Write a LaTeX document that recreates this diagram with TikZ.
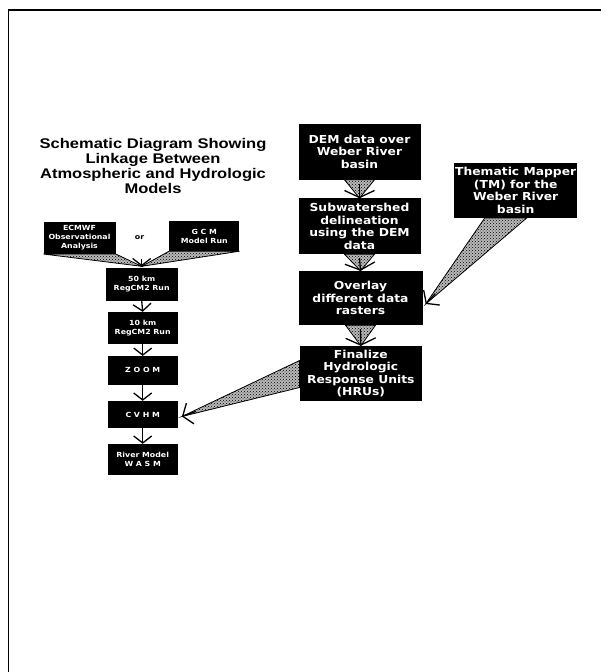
\documentclass[tikz,border=0pt]{standalone}
\usepackage{fontspec}
\newfontfamily\titlefont[FakeStretch=1.18]{Liberation Sans}
\newfontfamily\boxfont[FakeStretch=1.12]{DejaVu Sans}
\usetikzlibrary{arrows.meta,patterns,calc}

\tikzset{
  bigbox/.style={fill=black, text=white, align=center, inner sep=1pt,
    font=\boxfont\bfseries\fontsize{11}{12.5}\selectfont},
  smallbox/.style={fill=black, text=white, align=center, inner sep=1pt,
    font=\boxfont\bfseries\fontsize{7}{9}\selectfont},
  wedge/.style={draw=black, line width=0.8pt, preaction={fill=gray!55},
    pattern=crosshatch dots, pattern color=black},
  vtip/.style={line width=1.3pt, -{Straight Barb[length=7pt,width=18pt,line width=1.3pt]}},
  bigtip/.style={line width=1.3pt, -{Straight Barb[length=8pt,width=22pt,line width=1.3pt]}},
  frame/.style={line width=1.4pt}
}

\begin{document}
\begin{tikzpicture}[x=1pt, y=-1pt]
\useasboundingbox (0,0) rectangle (608,672);

% page frame
\coordinate (fbl) at (8.5,672);
\coordinate (ftl) at (8.5,10);
\coordinate (ftr) at (601,10);
\draw[frame] (fbl) -- (ftl) -- (ftr);

% title
\node[font=\titlefont\bfseries\fontsize{14}{15.3}\selectfont, align=center]
  (title) at (153,166) {Schematic Diagram Showing\\Linkage Between\\Atmospheric and Hydrologic\\Models};

% atmospheric chain
\node[smallbox, minimum width=72pt, minimum height=32pt] (ecmwf) at (79.5,237.8) {ECMWF\\Observational\\Analysis};
\node[font=\boxfont\bfseries\fontsize{7}{9}\selectfont] (or) at (139.5,238) {or};
\node[smallbox, minimum width=70pt, minimum height=30pt] (gcm) at (204.3,236) {G C M\\Model Run};
\node[smallbox, minimum width=72pt, minimum height=33pt] (r50) at (141.7,284) {50 km\\RegCM2 Run};
\node[smallbox, minimum width=70pt, minimum height=32pt] (r10) at (142.7,328) {10 km\\RegCM2 Run};
\node[smallbox, minimum width=70pt, minimum height=28.5pt] (zoom) at (142.7,370.3) {Z O O M};
\node[smallbox, minimum width=70pt, minimum height=27pt] (cvhm) at (142.7,414.5) {C V H M};
\node[smallbox, minimum width=70pt, minimum height=31pt] (river) at (142.7,459.5) {River Model\\W A S M};

% hydrologic chain
\node[bigbox, minimum width=122pt, minimum height=55.5pt] (dem) at (359.5,151.8) {DEM data over\\Weber River\\basin};
\node[bigbox, minimum width=122pt, minimum height=55.6pt] (sub) at (359.5,226.2) {Subwatershed\\delineation\\using the DEM\\data};
\node[bigbox, minimum width=124pt, minimum height=54pt] (overlay) at (360.5,298) {Overlay\\different data\\rasters};
\node[bigbox, minimum width=122pt, minimum height=55pt] (final) at (360.8,373.5) {Finalize\\Hydrologic\\Response Units\\(HRUs)};
\node[bigbox, minimum width=123pt, minimum height=55pt] (tm) at (515.7,190.3) {Thematic Mapper\\(TM) for the\\Weber River\\basin};

% inputs converging on the 50 km run
\coordinate (r50in) at ([yshift=1pt]r50.north);
\draw[wedge] (ecmwf.south west) -- (ecmwf.south east) -- (r50in) -- cycle;
\draw[wedge] (gcm.south west) -- (gcm.south east) -- (r50in) -- cycle;
\draw[vtip] ([yshift=8pt]r50.north) -- (r50in);

% atmospheric chain links
\draw[vtip] (r50.south) -- (r10.north);
\draw[vtip] (r10.south) -- (zoom.north);
\draw[vtip] (zoom.south) -- (cvhm.north);
\draw[vtip] (cvhm.south) -- (river.north);

% hydrologic chain links
\foreach \a/\b in {dem/sub, sub/overlay, overlay/final} {
  \draw[wedge] ([xshift=-15pt]\a.south) -- ([xshift=15pt]\a.south) -- (\b.north) -- cycle;
  \draw[line width=1.3pt, -{Straight Barb[length=7pt,width=30pt,line width=1.3pt]}]
    ([yshift=-4pt]\a.south) -- (\b.north);
}

% Thematic Mapper feeding the overlay
\coordinate (ovin) at ([xshift=3pt,yshift=-6pt]overlay.east);
\draw[wedge] ([xshift=-31pt]tm.south) -- ([xshift=11pt]tm.south) -- (ovin) -- cycle;
\draw[bigtip] ($(ovin)!0.12!([xshift=-10pt]tm.south)$) -- (ovin);

% HRUs feeding the CVHM step
\coordinate (cvin) at ([xshift=4pt,yshift=-2pt]cvhm.east);
\draw[wedge] ([yshift=13pt]final.west) -- ([yshift=-14pt]final.west) -- (cvin) -- cycle;
\draw[bigtip] ($(cvin)!0.12!(final.west)$) -- (cvin);
\end{tikzpicture}
\end{document}
